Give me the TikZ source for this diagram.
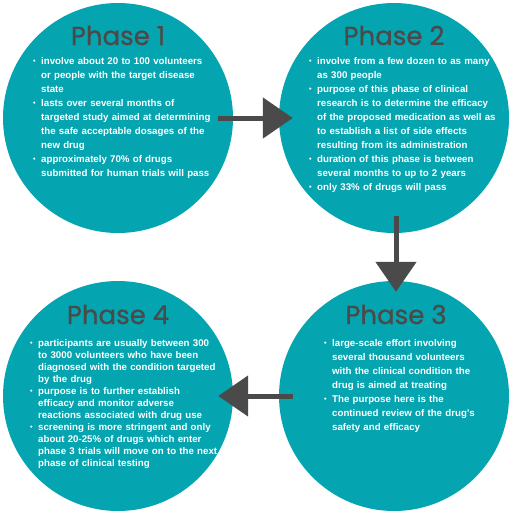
\documentclass[tikz,border=0pt]{standalone}
\usepackage{fontspec}
\setmainfont{Liberation Sans}
\newfontfamily\cimfont{Poppins}[FakeBold=0.8]
\usetikzlibrary{arrows.meta,positioning}
\definecolor{turkiz}{RGB}{4,165,176}
\definecolor{sotet}{RGB}{74,74,74}
\newcommand{\golyo}{\makebox[8pt][l]{\raisebox{0.5pt}{\scalebox{0.75}{\textbullet}}}}
\newcommand{\elem}[1]{\hangindent=8pt\hangafter=1\noindent\golyo#1\par}
\tikzset{
  fazis/.style={circle,fill=turkiz,minimum size=230pt,inner sep=0pt},
  cim/.style={anchor=base,text=sotet,font=\cimfont\fontsize{26}{30}\selectfont},
  szoveg/.style={anchor=north west,inner sep=0pt,text=white,align=left,text width=205pt,
                 font=\bfseries\fontsize{9.7}{14}\selectfont},
  nyil/.style={draw=sotet,line width=5pt,-{Triangle[length=30pt,width=40pt]}},
}
\begin{document}
\begin{tikzpicture}[x=1pt,y=-1pt]
  \useasboundingbox[fill=white] (0,0) rectangle (512,512);
  \node[fazis] (p1) at (118,118) {};
  \node[fazis] (p2) at (394,118) {};
  \node[fazis] (p3) at (394,396) {};
  \node[fazis] (p4) at (118,396) {};
  \node[cim] (c1) at (118,45) {Phase 1};
  \node[cim] (c2) at (394,45) {Phase 2};
  \node[cim] (c3) at (396,324) {Phase 3};
  \node[cim] (c4) at (118,324) {Phase 4};
  \node[szoveg] (t1) at (33,57) {%
    \elem{involve about 20 to 100 volunteers\newline or people with the target disease\newline state}
    \elem{lasts over several months of\newline targeted study aimed at determining\newline the safe acceptable dosages of the\newline new drug}
    \elem{approximately 70\% of drugs\newline submitted for human trials will pass}};
  \node[szoveg] (t2) at (309,57) {%
    \elem{involve from a few dozen to as many\newline as 300 people}
    \elem{purpose of this phase of clinical\newline research is to determine the efficacy\newline of the proposed medication as well as\newline to establish a list of side effects\newline resulting from its administration}
    \elem{duration of this phase is between\newline several months to up to 2 years}
    \elem{only 33\% of drugs will pass}};
  \node[szoveg] (t3) at (324,339) {%
    \elem{large-scale effort involving\newline several thousand volunteers\newline with the clinical condition the\newline drug is aimed at treating}
    \elem{The purpose here is the\newline continued review of the drug's\newline safety and efficacy}};
  \node[szoveg,font=\bfseries\fontsize{9.7}{12}\selectfont] (t4) at (30,339) {%
    \elem{participants are usually between 300\newline to 3000 volunteers who have been\newline diagnosed with the condition targeted\newline by the drug}
    \elem{purpose is to further establish\newline efficacy and monitor adverse\newline reactions associated with drug use}
    \elem{screening is more stringent and only\newline about 20-25\% of drugs which enter\newline phase 3 trials will move on to the next\newline phase of clinical testing}};
  \draw[nyil] ([xshift=-15pt]p1.east) -- ([xshift=14pt]p2.west);
  \draw[nyil] ([xshift=2pt,yshift=17pt]p2.south) -- ([xshift=2pt,yshift=-11pt]p3.north);
  \draw[nyil] ([xshift=14pt]p3.west) -- ([xshift=-15pt]p4.east);
\end{tikzpicture}
\end{document}
